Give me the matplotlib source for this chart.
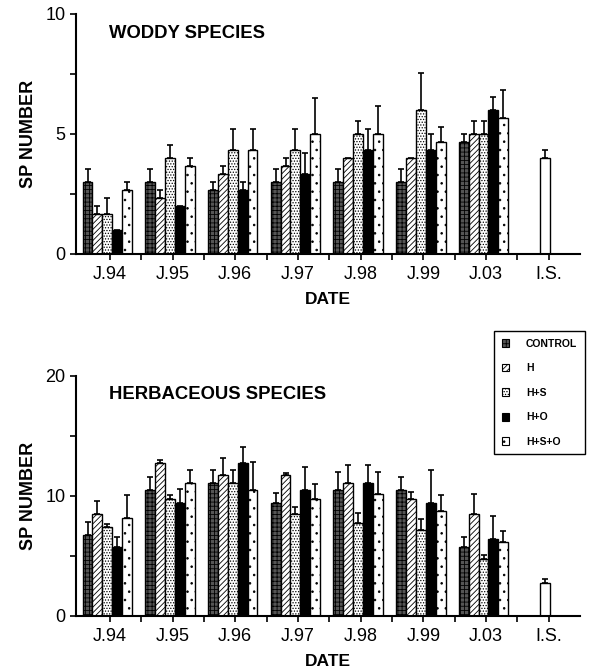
import numpy as np
import matplotlib
matplotlib.use('Agg')
import matplotlib.pyplot as plt
from matplotlib.patches import Patch

plt.rcParams['font.family'] = ['Liberation Sans', 'DejaVu Sans']
plt.rcParams['hatch.linewidth'] = 0.6

dates = ['J.94', 'J.95', 'J.96', 'J.97', 'J.98', 'J.99', 'J.03']
treatments = ['CONTROL', 'H', 'H+S', 'H+O', 'H+S+O']

# woody species: means and (upper) standard errors, nan = no bar drawn
woody_control = [3.0, 3.0, 2.67, 3.0, 3.0, 3.0, 4.67]
woody_h = [1.67, 2.33, 3.33, 3.67, 4.0, 4.0, 5.0]
woody_hs = [1.67, 4.0, 4.33, 4.33, 5.0, 6.0, 5.0]
woody_ho = [1.0, 2.0, 2.67, 3.33, 4.33, 4.33, 6.0]
woody_hso = [2.67, 3.67, 4.33, 5.0, 5.0, 4.67, 5.67]
woody_control_se = [0.55, 0.55, 0.33, 0.55, 0.55, 0.55, 0.33]
woody_h_se = [0.33, 0.33, 0.33, 0.33, np.nan, np.nan, 0.55]
woody_hs_se = [0.67, 0.55, 0.88, 0.88, 0.55, 1.53, 0.55]
woody_ho_se = [np.nan, np.nan, 0.33, 0.88, 0.88, 0.67, 0.55]
woody_hso_se = [0.33, 0.33, 0.88, 1.5, 1.15, 0.6, 1.17]
woody_is, woody_is_se = 4.0, 0.33

# herbaceous species
herb_control = [6.72, 10.44, 11.03, 9.42, 10.44, 10.44, 5.69]
herb_h = [8.44, 12.75, 11.72, 11.72, 11.03, 9.69, 8.44]
herb_hs = [7.39, 9.69, 11.03, 8.44, 7.69, 7.11, 4.69]
herb_ho = [5.72, 9.42, 12.75, 10.44, 11.03, 9.42, 6.42]
herb_hso = [8.11, 11.03, 10.44, 9.69, 10.14, 8.72, 6.11]
herb_control_se = [1.11, 1.14, 1.11, 0.83, 1.53, 1.12, 0.87]
herb_h_se = [1.09, 0.25, 1.45, 0.2, 1.53, 0.64, 1.67]
herb_hs_se = [0.25, 0.39, 1.11, 0.62, 0.89, 0.92, 0.34]
herb_ho_se = [0.84, 1.11, 1.33, 1.92, 1.53, 2.72, 1.91]
herb_hso_se = [1.97, 1.11, 2.34, 1.25, 1.83, 1.36, 0.95]
herb_is, herb_is_se = 2.69, 0.34

# bar styles: (facecolor, hatch)
styles = [('#555555', '++++'), ('white', '//////'), ('white', '......'),
          ('black', ''), ('white', '..')]

fig = plt.figure(figsize=(6.03, 6.71), dpi=100)
ax1 = fig.add_axes([0.126, 0.6215, 0.836, 0.3577])
ax2 = fig.add_axes([0.126, 0.0824, 0.836, 0.3577])

w = 0.158
x = np.arange(len(dates))


def draw_panel(ax, means, ses, is_val, is_se, ymax, title):
    for i, (m, s) in enumerate(zip(means, ses)):
        pos = x - 0.04 + (i - 2) * w
        fc, h = styles[i]
        ax.bar(pos, m, w, color=fc, edgecolor='black', hatch=h, linewidth=1.0, zorder=2)
        ax.errorbar(pos, m, yerr=[np.zeros(len(m)), s], fmt='none', ecolor='black',
                    elinewidth=1.2, capsize=2.2, capthick=1.2, zorder=3)
    ax.bar(7 - 0.06, is_val, w, color='white', edgecolor='black', linewidth=1.0, zorder=2)
    ax.errorbar([7 - 0.06], [is_val], yerr=[[0], [is_se]], fmt='none', ecolor='black',
                elinewidth=1.2, capsize=2.2, capthick=1.2, zorder=3)
    ax.set_xlim(-0.54, 7.5)
    ax.set_ylim(0, ymax)
    ax.set_xticks(range(8))
    ax.set_xticklabels(dates + ['I.S.'], fontsize=13)
    ax.set_xticks(np.arange(0.5, 7.5, 1), minor=True)
    ax.set_yticks([0, ymax / 2, ymax])
    ax.set_yticklabels([f'{v:g}' for v in [0, ymax / 2, ymax]], fontsize=13)
    ax.set_yticks([ymax / 4, 3 * ymax / 4], minor=True)
    ax.tick_params(which='both', direction='out', length=4, width=1.2)
    ax.tick_params(axis='x', which='major', length=4, pad=5)
    for sp in ['top', 'right']:
        ax.spines[sp].set_visible(False)
    for sp in ['left', 'bottom']:
        ax.spines[sp].set_linewidth(1.5)
    ax.set_xlabel('DATE', fontsize=12.5, fontweight='bold', labelpad=6)
    ax.set_ylabel('SP NUMBER', fontsize=13, fontweight='bold', labelpad=6)
    ax.text(0.065, 0.955, title, transform=ax.transAxes, fontsize=13.3,
            fontweight='bold', va='top', ha='left')


draw_panel(ax1, [woody_control, woody_h, woody_hs, woody_ho, woody_hso],
           [woody_control_se, woody_h_se, woody_hs_se, woody_ho_se, woody_hso_se],
           woody_is, woody_is_se, 10, 'WODDY SPECIES')
draw_panel(ax2, [herb_control, herb_h, herb_hs, herb_ho, herb_hso],
           [herb_control_se, herb_h_se, herb_hs_se, herb_ho_se, herb_hso_se],
           herb_is, herb_is_se, 20, 'HERBACEOUS SPECIES')

handles = [Patch(facecolor=fc, edgecolor='black', hatch=h, linewidth=0.8) for fc, h in styles]
leg = fig.legend(handles, treatments, loc='upper right', bbox_to_anchor=(0.978, 0.514),
                 prop={'weight': 'bold', 'size': 7.5}, handlelength=0.75, handleheight=0.75,
                 labelspacing=1.4, handletextpad=1.6, borderpad=0.7, fancybox=False,
                 edgecolor='black', framealpha=1)
leg.get_frame().set_linewidth(1.0)

plt.savefig('out.png', dpi=100)
